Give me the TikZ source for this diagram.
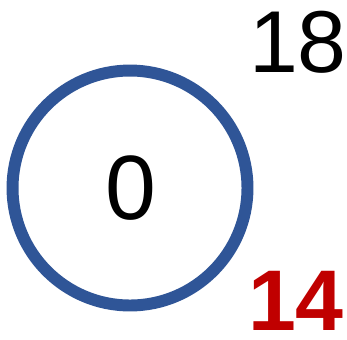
\documentclass[tikz,border=0pt]{standalone}
\usepackage{fontspec}
\setmainfont{Liberation Sans}
\definecolor{ringblue}{HTML}{2F5597}
\definecolor{numred}{HTML}{C00000}
\begin{document}
\begin{tikzpicture}[x=0.02cm,y=-0.02cm]
\useasboundingbox (0,0) rectangle (347,339);
\node[draw=ringblue,line width=6.8pt,circle,minimum size=4.7cm,inner sep=0pt] (ring) at (130,188) {};
\node[inner sep=0pt] (val) at (131,188) {\fontsize{52}{58}\selectfont 0};
\node[inner sep=0pt] (top) at (298,42) {\fontsize{50}{56}\selectfont 18};
\node[inner sep=0pt,text=numred] (bot) at (296,301) {\fontsize{49}{55}\selectfont\bfseries 14};
\end{tikzpicture}
\end{document}
